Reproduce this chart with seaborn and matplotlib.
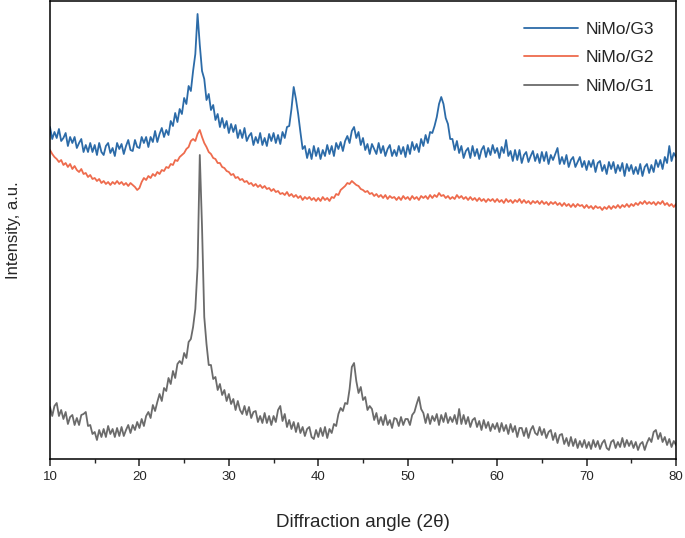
import numpy as np
import pandas as pd
import matplotlib
matplotlib.use("Agg")
import matplotlib.pyplot as plt
from matplotlib.ticker import MultipleLocator
import seaborn as sns

# scan angles (2 theta), 0.25 degree steps from 10 to 80
angle = np.linspace(10, 80, 281)

# intensities (a.u., offset stacked as in the figure)
g3 = [
    332, 320, 327, 321, 330, 318, 321, 326, 313, 322, 316, 322, 311, 316, 320, 307, 314, 307, 316, 307,
    314, 304, 316, 307, 304, 313, 316, 306, 311, 303, 316, 310, 315, 305, 313, 319, 309, 308, 319, 312,
    311, 322, 316, 322, 312, 322, 317, 328, 317, 325, 331, 322, 329, 324, 338, 333, 346, 337, 350, 345,
    361, 355, 373, 368, 388, 405, 445, 414, 388, 380, 359, 365, 349, 354, 339, 345, 332, 341, 331, 338,
    326, 335, 327, 334, 321, 329, 321, 331, 318, 323, 326, 314, 322, 316, 326, 314, 321, 313, 325, 318,
    326, 316, 324, 315, 327, 321, 332, 333, 350, 372, 360, 345, 327, 310, 313, 301, 310, 300, 313, 303,
    311, 300, 309, 303, 314, 305, 313, 303, 316, 310, 317, 308, 318, 323, 316, 328, 332, 321, 327, 314,
    321, 309, 315, 305, 315, 310, 305, 316, 306, 313, 303, 310, 314, 303, 309, 303, 313, 305, 312, 302,
    314, 305, 317, 309, 315, 307, 320, 313, 324, 316, 327, 326, 333, 342, 355, 362, 355, 341, 335, 320,
    320, 309, 318, 306, 313, 301, 308, 311, 301, 313, 303, 310, 300, 309, 313, 302, 311, 304, 314, 306,
    311, 301, 312, 306, 319, 303, 308, 298, 309, 299, 309, 296, 304, 307, 297, 303, 308, 298, 305, 296,
    307, 298, 307, 295, 304, 299, 305, 311, 295, 302, 295, 304, 292, 299, 302, 292, 297, 302, 292, 298,
    289, 298, 292, 299, 287, 296, 298, 288, 294, 285, 297, 290, 297, 286, 294, 288, 296, 283, 295, 288,
    294, 285, 292, 285, 295, 283, 292, 295, 286, 294, 287, 299, 292, 299, 290, 302, 296, 313, 298, 306,
    302,
]
g2 = [
    309, 305, 302, 300, 297, 299, 294, 296, 292, 295, 290, 293, 289, 287, 290, 285, 286, 282, 284, 280,
    281, 278, 280, 276, 278, 275, 277, 274, 277, 275, 278, 275, 277, 274, 276, 273, 276, 274, 272, 269,
    271, 277, 281, 279, 283, 281, 285, 283, 287, 285, 289, 288, 292, 291, 295, 294, 299, 298, 302, 304,
    306, 310, 312, 318, 320, 318, 325, 329, 322, 316, 312, 307, 305, 301, 300, 296, 296, 292, 291, 288,
    287, 284, 285, 281, 282, 279, 280, 277, 278, 275, 276, 273, 275, 272, 274, 271, 273, 270, 271, 268,
    270, 267, 268, 265, 266, 264, 267, 263, 265, 262, 264, 261, 263, 259, 262, 260, 262, 259, 261, 258,
    261, 258, 262, 259, 261, 258, 262, 261, 265, 264, 269, 271, 273, 276, 275, 278, 276, 274, 273, 270,
    269, 267, 268, 265, 266, 263, 265, 262, 264, 261, 264, 260, 263, 261, 262, 259, 262, 259, 263, 260,
    262, 259, 263, 260, 262, 259, 263, 261, 263, 260, 264, 261, 264, 262, 266, 263, 264, 261, 263, 260,
    262, 260, 264, 261, 263, 260, 262, 259, 262, 259, 261, 258, 261, 258, 260, 257, 260, 258, 260, 257,
    260, 257, 259, 256, 260, 257, 259, 256, 259, 257, 260, 256, 259, 256, 258, 255, 258, 256, 258, 255,
    258, 255, 257, 254, 257, 255, 257, 254, 256, 253, 256, 253, 255, 252, 255, 252, 255, 253, 254, 251,
    254, 251, 253, 250, 253, 251, 252, 249, 252, 250, 253, 250, 253, 251, 254, 251, 254, 252, 255, 252,
    255, 253, 256, 254, 257, 255, 258, 255, 257, 255, 257, 254, 257, 255, 258, 254, 256, 253, 255, 252,
    255,
]
g1 = [
    52, 43, 53, 56, 43, 49, 40, 47, 35, 42, 44, 34, 41, 34, 44, 45, 47, 33, 34, 25,
    27, 19, 29, 22, 30, 22, 33, 25, 30, 22, 31, 23, 32, 23, 29, 34, 26, 34, 29, 37,
    31, 40, 33, 43, 47, 41, 54, 48, 57, 65, 58, 71, 68, 81, 75, 88, 81, 95, 98, 95,
    106, 101, 117, 120, 132, 150, 192, 304, 232, 142, 115, 94, 94, 80, 82, 69, 75, 64, 69, 58,
    65, 55, 60, 49, 58, 49, 45, 53, 44, 52, 41, 47, 48, 37, 43, 36, 46, 36, 43, 34,
    43, 37, 49, 53, 38, 45, 32, 39, 30, 37, 27, 36, 26, 32, 23, 30, 32, 22, 20, 29,
    22, 31, 23, 32, 21, 30, 26, 35, 33, 45, 51, 48, 56, 55, 70, 92, 96, 78, 66, 72,
    59, 62, 49, 53, 50, 39, 46, 35, 42, 34, 44, 34, 39, 31, 41, 40, 33, 42, 34, 40,
    40, 34, 44, 47, 55, 62, 50, 46, 36, 45, 35, 43, 38, 45, 34, 44, 37, 46, 36, 42,
    37, 44, 35, 50, 35, 44, 35, 42, 32, 39, 41, 32, 38, 29, 39, 31, 37, 28, 35, 30,
    36, 27, 36, 28, 34, 25, 35, 27, 33, 22, 31, 31, 23, 31, 21, 29, 33, 26, 24, 32,
    24, 30, 21, 27, 29, 19, 26, 16, 24, 25, 15, 21, 13, 22, 13, 20, 11, 18, 12, 19,
    11, 17, 10, 19, 12, 18, 10, 16, 19, 11, 9, 17, 19, 11, 17, 12, 21, 12, 19, 13,
    18, 11, 17, 9, 15, 17, 9, 16, 21, 17, 27, 29, 20, 26, 17, 22, 14, 20, 12, 18,
    14,
]

samples = ["NiMo/G3", "NiMo/G2", "NiMo/G1"]
colors = ["#2c6ba8", "#ee6b4d", "#6b6b6b"]

df = pd.concat([
    pd.DataFrame({"angle": angle, "intensity": vals, "sample": name})
    for name, vals in zip(samples, [g3, g2, g1])
], ignore_index=True)

sns.set_style("white")
plt.rcParams["font.family"] = ["Liberation Sans", "DejaVu Sans"]

fig = plt.figure(figsize=(6.85, 5.38), dpi=100)
ax = fig.add_axes([50 / 685, 79 / 538, 626 / 685, 458 / 538])

sns.lineplot(data=df, x="angle", y="intensity", hue="sample", hue_order=samples,
             palette=colors, linewidth=1.3, estimator=None, ax=ax)

ax.set_xlim(10, 80)
ax.set_ylim(0, 458)
ax.set_yticks([])
ax.xaxis.set_major_locator(MultipleLocator(10))
ax.xaxis.set_minor_locator(MultipleLocator(5))
ax.tick_params(axis="x", which="major", direction="out", length=5, width=1.1,
               labelsize=9.5, pad=4, bottom=True)
ax.tick_params(axis="x", which="minor", direction="out", length=3, width=1.0, bottom=True)
for sp in ax.spines.values():
    sp.set_visible(True)
    sp.set_color("black")
    sp.set_linewidth(1.1)

ax.set_xlabel("Diffraction angle (2θ)", fontsize=13.5, labelpad=22)
ax.set_ylabel("Intensity, a.u.", fontsize=12, labelpad=21)

leg = ax.legend(loc="upper left", bbox_to_anchor=(0.757, 0.955), frameon=False,
                handlelength=3.1, handletextpad=0.45, labelspacing=0.78,
                borderpad=0, borderaxespad=0, fontsize=12.5)
for line in leg.get_lines():
    line.set_linewidth(1.3)

fig.savefig("out.png", dpi=100)
